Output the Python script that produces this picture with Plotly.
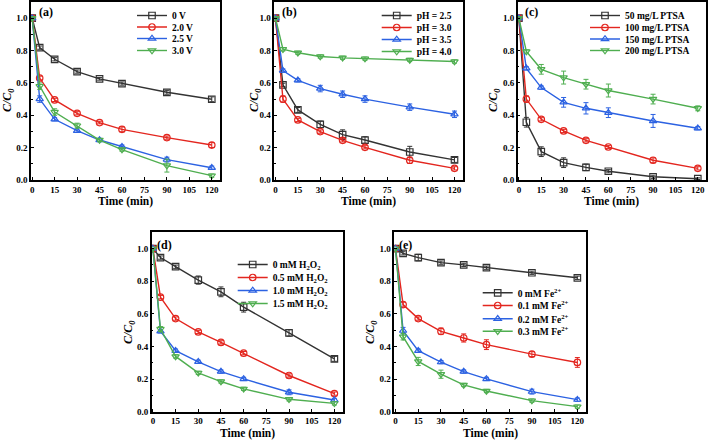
import plotly.graph_objects as go

# ---------------- data ----------------
time = [0, 5, 15, 30, 45, 60, 90, 120]

# (a) voltage
a_names = ["0 V", "2.0 V", "2.5 V", "3.0 V"]
a_0V = [1.0, 0.818, 0.746, 0.670, 0.625, 0.596, 0.542, 0.499]
a_20V = [1.0, 0.630, 0.495, 0.412, 0.355, 0.313, 0.262, 0.216]
a_25V = [1.0, 0.500, 0.375, 0.305, 0.247, 0.206, 0.126, 0.076]
a_30V = [1.0, 0.580, 0.420, 0.336, 0.247, 0.188, 0.089, 0.027]
a_err_0V = [0.0, 0.01, 0.01, 0.01, 0.008, 0.01, 0.012, 0.015]
a_err_20V = [0.0, 0.012, 0.01, 0.01, 0.008, 0.015, 0.01, 0.015]
a_err_25V = [0.0, 0.02, 0.01, 0.01, 0.01, 0.01, 0.015, 0.01]
a_err_30V = [0.0, 0.02, 0.02, 0.015, 0.01, 0.01, 0.04, 0.01]

# (b) pH
b_names = ["pH = 2.5", "pH = 3.0", "pH = 3.5", "pH = 4.0"]
b_25 = [1.0, 0.588, 0.433, 0.344, 0.280, 0.247, 0.173, 0.124]
b_30 = [1.0, 0.500, 0.371, 0.299, 0.245, 0.202, 0.122, 0.072]
b_35 = [1.0, 0.676, 0.616, 0.565, 0.530, 0.500, 0.450, 0.406]
b_40 = [1.0, 0.808, 0.786, 0.763, 0.755, 0.750, 0.742, 0.732]
b_err_25 = [0.0, 0.01, 0.015, 0.02, 0.03, 0.02, 0.035, 0.015]
b_err_30 = [0.0, 0.02, 0.01, 0.01, 0.01, 0.01, 0.02, 0.01]
b_err_35 = [0.0, 0.01, 0.01, 0.02, 0.02, 0.02, 0.02, 0.02]
b_err_40 = [0.0, 0.01, 0.01, 0.01, 0.01, 0.01, 0.01, 0.01]

# (c) PTSA
c_names = ["50 mg/L PTSA", "100 mg/L PTSA", "150 mg/L PTSA", "200 mg/L PTSA"]
c_50 = [1.0, 0.357, 0.175, 0.107, 0.078, 0.054, 0.020, 0.008]
c_100 = [1.0, 0.500, 0.375, 0.303, 0.245, 0.204, 0.122, 0.072]
c_150 = [1.0, 0.690, 0.571, 0.480, 0.443, 0.416, 0.365, 0.320]
c_200 = [1.0, 0.794, 0.684, 0.633, 0.592, 0.553, 0.500, 0.443]
c_err_50 = [0.0, 0.03, 0.03, 0.03, 0.02, 0.01, 0.01, 0.005]
c_err_100 = [0.0, 0.02, 0.01, 0.01, 0.01, 0.01, 0.015, 0.01]
c_err_150 = [0.0, 0.01, 0.01, 0.03, 0.035, 0.03, 0.04, 0.01]
c_err_200 = [0.0, 0.01, 0.03, 0.04, 0.03, 0.04, 0.03, 0.015]

# (d) H2O2
d_names = ["0 mM H<sub>2</sub>O<sub>2</sub>", "0.5 mM H<sub>2</sub>O<sub>2</sub>",
           "1.0 mM H<sub>2</sub>O<sub>2</sub>", "1.5 mM H<sub>2</sub>O<sub>2</sub>"]
d_0 = [1.0, 0.945, 0.889, 0.807, 0.735, 0.641, 0.483, 0.324]
d_05 = [1.0, 0.702, 0.571, 0.489, 0.425, 0.359, 0.222, 0.111]
d_10 = [1.0, 0.493, 0.374, 0.306, 0.246, 0.201, 0.119, 0.072]
d_15 = [1.0, 0.507, 0.339, 0.238, 0.185, 0.140, 0.076, 0.051]
d_err_0 = [0.0, 0.01, 0.01, 0.025, 0.03, 0.03, 0.02, 0.015]
d_err_05 = [0.0, 0.01, 0.01, 0.01, 0.01, 0.01, 0.01, 0.01]
d_err_10 = [0.0, 0.01, 0.01, 0.01, 0.01, 0.01, 0.015, 0.01]
d_err_15 = [0.0, 0.015, 0.01, 0.01, 0.01, 0.01, 0.01, 0.01]

# (e) Fe2+
e_names = ["0 mM Fe<sup>2+</sup>", "0.1 mM Fe<sup>2+</sup>",
           "0.2 mM Fe<sup>2+</sup>", "0.3 mM Fe<sup>2+</sup>"]
e_0 = [1.0, 0.971, 0.945, 0.914, 0.900, 0.883, 0.852, 0.821]
e_01 = [1.0, 0.657, 0.571, 0.493, 0.452, 0.411, 0.353, 0.302]
e_02 = [1.0, 0.497, 0.374, 0.304, 0.246, 0.201, 0.123, 0.074]
e_03 = [1.0, 0.460, 0.308, 0.230, 0.164, 0.127, 0.068, 0.031]
e_err_0 = [0.0, 0.01, 0.02, 0.01, 0.01, 0.01, 0.01, 0.01]
e_err_01 = [0.0, 0.015, 0.01, 0.02, 0.025, 0.03, 0.015, 0.03]
e_err_02 = [0.0, 0.02, 0.01, 0.01, 0.01, 0.01, 0.015, 0.01]
e_err_03 = [0.0, 0.02, 0.025, 0.025, 0.01, 0.01, 0.01, 0.01]

x_ticks = [0, 15, 30, 45, 60, 75, 90, 105, 120]
panel_labels = ["(a)", "(b)", "(c)", "(d)", "(e)"]
x_title = "Time (min)"
y_title = "C/C<sub>0</sub>"

# ---------------- style ----------------
W, H = 709, 441
FONT = "Liberation Serif, Times New Roman, serif"
colors = ["#333333", "#e3261f", "#2c62e2", "#4fae50"]
symbols = ["square-open", "circle-open", "triangle-up-open", "triangle-down-open"]

panels = [
    (a_names, [a_0V, a_20V, a_25V, a_30V], [a_err_0V, a_err_20V, a_err_25V, a_err_30V]),
    (b_names, [b_25, b_30, b_35, b_40], [b_err_25, b_err_30, b_err_35, b_err_40]),
    (c_names, [c_50, c_100, c_150, c_200], [c_err_50, c_err_100, c_err_150, c_err_200]),
    (d_names, [d_0, d_05, d_10, d_15], [d_err_0, d_err_05, d_err_10, d_err_15]),
    (e_names, [e_0, e_01, e_02, e_03], [e_err_0, e_err_01, e_err_02, e_err_03]),
]

# panel frames in pixels: (left, right, top, bottom)
frames = [
    (31, 220, 2, 180),
    (274.3, 462.7, 2, 180),
    (517.7, 706, 2, 180),
    (151.7, 342.7, 232.3, 411.7),
    (394.3, 585.7, 232.3, 411.7),
]
# legend: text-start x, row centers y (pixels)
legend_pos = [
    (172, [15, 26.5, 38, 50]),
    (416.7, [15, 27, 39, 51]),
    (625, [15, 27, 38.5, 50]),
    (272.7, [264, 277, 290, 303]),
    (517.7, [292.3, 305, 318.3, 330.7]),
]
label_pos = [(37, 12), (280, 12), (523, 12), (155, 245), (396.7, 245)]
xtitle_y = [201, 201, 201, 433, 433]
ytitle_pos = [(8, 100), (255, 100), (494, 100), (129, 332), (371, 332)]

fig = go.Figure()
layout = dict(
    width=W, height=H,
    margin=dict(l=0, r=0, t=0, b=0, autoexpand=False),
    paper_bgcolor="white", plot_bgcolor="white",
    font=dict(family=FONT, color="black"),
    showlegend=True,
    annotations=[],
)

leg_idx = 0
for p, (names, series, errs) in enumerate(panels):
    ax = "" if p == 0 else str(p + 1)
    l, r, t, b = frames[p]
    for k in range(4):
        leg_idx += 1
        legname = "legend" if leg_idx == 1 else f"legend{leg_idx}"
        fig.add_trace(go.Scatter(
            x=time, y=series[k], name=names[k],
            mode="lines+markers",
            line=dict(color=colors[k], width=1.4),
            marker=dict(symbol=symbols[k], size=6.5, color=colors[k],
                        line=dict(width=1.2, color=colors[k])),
            error_y=dict(type="data", array=errs[k], visible=True,
                         color=colors[k], thickness=1, width=2.5),
            xaxis="x" + ax, yaxis="y" + ax,
            legend=legname,
        ))
        tx, rows = legend_pos[p]
        layout[legname] = dict(
            x=(tx - 40) / W, y=1 - (rows[k] + 0.5) / H,
            xanchor="left", yanchor="middle",
            bgcolor="rgba(0,0,0,0)", borderwidth=0,
            font=dict(family=FONT, size=9.5, color="black", weight="bold"),
            itemwidth=30,
        )
    layout["xaxis" + ax] = dict(
        domain=[l / W, r / W], anchor="y" + ax,
        range=[-0.8, 125.5], tickmode="array", tickvals=x_ticks,
        ticks="inside", ticklen=3, tickwidth=1.2, tickcolor="black",
        showline=True, linewidth=1.5, linecolor="black", mirror=True,
        showgrid=False, zeroline=False, automargin=False,
        tickfont=dict(family=FONT, size=9, color="black", weight="bold"),
    )
    layout["yaxis" + ax] = dict(
        domain=[1 - b / H, 1 - t / H], anchor="x" + ax,
        range=[0, 1.1], tick0=0, dtick=0.2, tickformat=".1f",
        ticks="inside", ticklen=3, tickwidth=1.2, tickcolor="black",
        minor=dict(ticks="inside", dtick=0.1, ticklen=2, tickwidth=1, tickcolor="black"),
        showline=True, linewidth=1.5, linecolor="black", mirror=True,
        showgrid=False, zeroline=False, automargin=False,
        tickfont=dict(family=FONT, size=9, color="black", weight="bold"),
    )
    lx, ly = label_pos[p]
    layout["annotations"].append(dict(
        text=panel_labels[p], xref="paper", yref="paper",
        x=lx / W, y=1 - ly / H, xanchor="left", yanchor="middle",
        showarrow=False,
        font=dict(family=FONT, size=12, color="black", weight="bold"),
    ))
    layout["annotations"].append(dict(
        text=x_title, xref="paper", yref="paper",
        x=(l + r) / 2 / W, y=1 - xtitle_y[p] / H,
        xanchor="center", yanchor="middle", showarrow=False,
        font=dict(family=FONT, size=11.5, color="black", weight="bold"),
    ))
    yx, yy = ytitle_pos[p]
    layout["annotations"].append(dict(
        text=y_title, xref="paper", yref="paper",
        x=yx / W, y=1 - yy / H, textangle=-90,
        xanchor="center", yanchor="middle", showarrow=False,
        font=dict(family=FONT, size=12, color="black",
                  weight="bold", style="italic"),
    ))

fig.update_layout(**layout)
fig.write_html(
    "out.html",
    config={"displayModeBar": False},
    post_script="document.body.style.margin='0';document.body.style.overflow='hidden';",
)
